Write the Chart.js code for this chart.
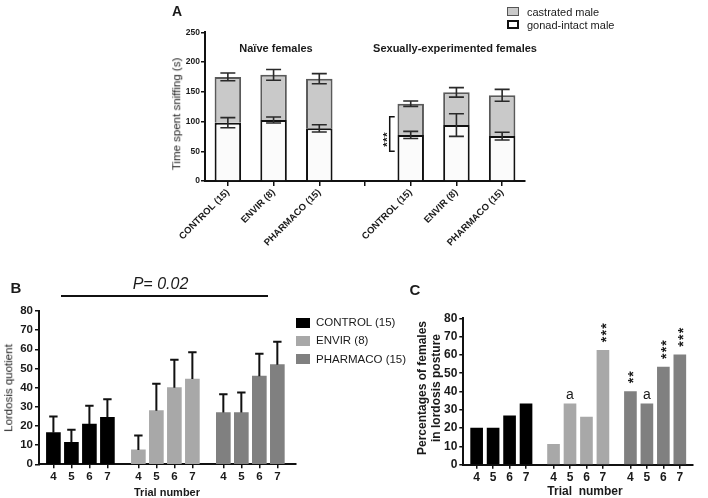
<!DOCTYPE html>
<html><head><meta charset="utf-8">
<script src="https://cdn.jsdelivr.net/npm/chart.js@4.4.0/dist/chart.umd.min.js"></script>
<style>
html,body{margin:0;padding:0;background:#fff;}
body{width:708px;height:498px;position:relative;overflow:hidden;font-family:"Liberation Sans",Arial,sans-serif;color:#1a1a1a;}
canvas{position:absolute;}
.t{position:absolute;white-space:nowrap;transform:translate(-50%,-50%);line-height:1;}
.l{position:absolute;white-space:nowrap;transform:translate(0,-50%);line-height:1;}
.r{transform:translate(-50%,-50%) rotate(-90deg);}
.b{font-weight:bold;}
.sq{position:absolute;box-sizing:border-box;}
</style></head><body>
<canvas id="cA" width="708" height="255" style="left:0;top:0"></canvas>
<canvas id="cB" width="300" height="243" style="left:0;top:255px"></canvas>
<canvas id="cC" width="348" height="218" style="left:360px;top:280px"></canvas>

<div class="t b" style="left:177px;top:11px;font-size:14px;">A</div>
<div class="sq" style="left:507px;top:7px;width:12px;height:9px;background:#c9c9c9;border:1.5px solid #555;"></div>
<div class="l" style="left:527px;top:11.5px;font-size:11px;">castrated male</div>
<div class="sq" style="left:507px;top:20px;width:12px;height:9px;background:#fff;border:2px solid #111;"></div>
<div class="l" style="left:527px;top:24.5px;font-size:11px;">gonad-intact male</div>
<div class="t r" style="left:177px;top:114px;font-size:11.5px;color:#222;">Time spent sniffing (s)</div>
<div class="t b" style="left:276px;top:48px;font-size:11px;">Naïve females</div>
<div class="t b" style="left:455px;top:48px;font-size:11px;">Sexually-experimented females</div>

<div class="t b" style="left:16px;top:287px;font-size:15px;">B</div>
<div class="t" style="left:160.5px;top:283.5px;font-size:16px;font-style:italic;">P= 0.02</div>
<div style="position:absolute;left:61px;top:295px;width:207px;height:1.5px;background:#111;"></div>
<div class="t r" style="left:9px;top:388px;font-size:11.5px;">Lordosis quotient</div>
<div class="sq" style="left:296px;top:318px;width:14px;height:10px;background:#000;"></div>
<div class="l" style="left:316px;top:323px;font-size:11.5px;">CONTROL (15)</div>
<div class="sq" style="left:296px;top:336px;width:14px;height:10px;background:#a8a8a8;"></div>
<div class="l" style="left:316px;top:341px;font-size:11.5px;">ENVIR (8)</div>
<div class="sq" style="left:296px;top:354px;width:14px;height:10px;background:#808080;"></div>
<div class="l" style="left:316px;top:359.5px;font-size:11.5px;">PHARMACO (15)</div>
<div class="t b" style="left:167px;top:491.5px;font-size:11px;">Trial number</div>

<div class="t b" style="left:415px;top:289px;font-size:15px;">C</div>
<div class="t r b" style="left:422px;top:388px;font-size:12px;">Percentages of females</div>
<div class="t r b" style="left:435.5px;top:388px;font-size:12px;">in lordosis posture</div>
<div class="t b" style="left:585px;top:491px;font-size:12px;">Trial&nbsp;&nbsp;number</div>

<script>
// ---------- Panel A data ----------
const groupsA = ['CONTROL (15)','ENVIR (8)','PHARMACO (15)','','CONTROL (15)','ENVIR (8)','PHARMACO (15)'];
const intactMean = [98, 102.5, 88.5, null, 77.5, 94, 75.5];
const intactErr = [8.5, 5, 6, null, 6, 19, 6.5];
const castratedMean = [77, 76, 83.5, null, 52.5, 55, 68.5];
const totalErr = [6.5, 9, 8.5, null, 4.5, 8, 10];
const sigBracketA = [50, 108];

// ---------- Panel B data ----------
const trials = ['4','5','6','7'];
const controlLQ = [16.5, 11.5, 21, 24.5];
const controlLQErr = [8.5, 6.5, 9.5, 9.5];
const envirLQ = [7.5, 28, 40, 44.5];
const envirLQErr = [7.5, 14, 14.5, 14];
const pharmacoLQ = [27, 27, 46, 52];
const pharmacoLQErr = [9.5, 10.5, 11.7, 12];

// ---------- Panel C data ----------
const controlPct = [20, 20, 26.7, 33.3];
const envirPct = [11.1, 33.3, 26, 62.5];
const pharmacoPct = [40, 33.3, 53.3, 60];
const envirMarks = ['', 'a', '', '***'];
const pharmacoMarks = ['**', 'a', '***', '***'];

const FONT = '"Liberation Sans", Arial, sans-serif';
const TXT = '#1a1a1a';
const colors = {control:'#000000', envir:'#a8a8a8', pharmaco:'#808080'};

function vStars(ctx, x, yBottom, n, size, step){
  ctx.save();
  ctx.font = 'bold ' + size + 'px ' + FONT;
  ctx.fillStyle = TXT; ctx.textAlign = 'center'; ctx.textBaseline = 'alphabetic';
  for(let k=0;k<n;k++){
    const yc = yBottom - step/2 - k*step;
    ctx.save();
    ctx.translate(x, yc);
    ctx.rotate(-Math.PI/2);
    ctx.fillText('*', 0, size*0.55);
    ctx.restore();
  }
  ctx.restore();
}

// ---------- Chart A ----------
const errPluginA = {
  id:'errA',
  afterDatasetsDraw(chart){
    const ctx = chart.ctx, ys = chart.scales.y, xs = chart.scales.x;
    const m0 = chart.getDatasetMeta(0);
    ctx.save();
    ctx.strokeStyle = '#2a2a2a'; ctx.lineWidth = 1.6;
    function eb(x, v, e){
      const y1 = ys.getPixelForValue(v-e), y2 = ys.getPixelForValue(v+e), h = 7.5;
      ctx.beginPath();
      ctx.moveTo(x, y1); ctx.lineTo(x, y2);
      ctx.moveTo(x-h, y1); ctx.lineTo(x+h, y1);
      ctx.moveTo(x-h, y2); ctx.lineTo(x+h, y2);
      ctx.stroke();
    }
    intactMean.forEach((v,i)=>{
      if(v==null) return;
      const x = m0.data[i].x;
      eb(x, v, intactErr[i]);
      eb(x, v + castratedMean[i], totalErr[i]);
    });
    // significance bracket
    const bx = xs.getPixelForValue(4) - 21;
    const yb1 = ys.getPixelForValue(sigBracketA[0]), yb2 = ys.getPixelForValue(sigBracketA[1]);
    ctx.strokeStyle = '#111'; ctx.lineWidth = 1.5;
    ctx.beginPath();
    ctx.moveTo(bx+5, yb1); ctx.lineTo(bx, yb1); ctx.lineTo(bx, yb2); ctx.lineTo(bx+5, yb2);
    ctx.stroke();
    ctx.restore();
    vStars(ctx, bx-5, (yb1+yb2)/2 + 13, 3, 11, 5);
  }
};

new Chart(document.getElementById('cA'), {
  type:'bar',
  data:{
    labels: groupsA,
    datasets:[
      {label:'gonad-intact male', data:intactMean, backgroundColor:'#fbfbfb', borderColor:'#111', borderWidth:2, stack:'s'},
      {label:'castrated male', data:castratedMean, backgroundColor:'#c9c9c9', borderColor:'#5a5a5a', borderWidth:2, stack:'s'}
    ]
  },
  options:{
    responsive:false, animation:false, devicePixelRatio:1,
    layout:{padding:{top:32.3, right:183, left:0, bottom:0}},
    plugins:{legend:{display:false}, tooltip:{enabled:false}},
    datasets:{bar:{categoryPercentage:1, barPercentage:0.58}},
    scales:{
      x:{stacked:true,
        afterFit(s){ s.height = 255 - 181; },
        grid:{offset:false, drawOnChartArea:false, drawTicks:true, tickLength:5, color:'#111', lineWidth:1.5},
        border:{display:true, color:'#111', width:2},
        ticks:{autoSkip:false, minRotation:45, maxRotation:45, padding:1, color:TXT, font:{family:FONT, size:9.5, weight:'bold'}}
      },
      y:{stacked:true, min:0, max:250,
        afterFit(s){ s.width = 205; },
        grid:{drawOnChartArea:false, drawTicks:true, tickLength:4, color:'#111', lineWidth:1.5},
        border:{display:true, color:'#111', width:2},
        ticks:{stepSize:50, padding:1, color:TXT, font:{family:FONT, size:8.5, weight:'bold'}}
      }
    }
  },
  plugins:[errPluginA]
});

// ---------- helpers for B and C ----------
function groupedChart(canvasId, cfg){
  const positions = [];
  [0,1,2].forEach(g=>trials.forEach((t,i)=>positions.push(g*cfg.gap + i)));
  const series = cfg.series;
  const datasets = series.map((s,g)=>({
    label:s.label,
    data: s.values.map((v,i)=>({x: g*cfg.gap + i, y: v})),
    backgroundColor: s.color, borderWidth:0,
    barThickness: cfg.barThickness, grouped:false
  }));
  const plug = {
    id:'extra'+canvasId,
    afterDatasetsDraw(chart){
      const ctx = chart.ctx, ys = chart.scales.y;
      series.forEach((s,g)=>{
        const meta = chart.getDatasetMeta(g);
        meta.data.forEach((el,i)=>{
          const x = el.x, v = s.values[i];
          if(s.err){
            const y1 = ys.getPixelForValue(v), y2 = ys.getPixelForValue(v + s.err[i]);
            ctx.save(); ctx.strokeStyle = '#111'; ctx.lineWidth = 2;
            ctx.beginPath(); ctx.moveTo(x,y1); ctx.lineTo(x,y2);
            ctx.moveTo(x-4.2,y2); ctx.lineTo(x+4.2,y2); ctx.stroke(); ctx.restore();
          }
          if(s.marks && s.marks[i]){
            const m = s.marks[i], top = ys.getPixelForValue(v);
            if(m === 'a'){
              ctx.save(); ctx.font = '14px ' + FONT; ctx.fillStyle = TXT;
              ctx.textAlign='center'; ctx.textBaseline='alphabetic';
              ctx.fillText('a', x, top - 4.5); ctx.restore();
            } else {
              vStars(ctx, x, top - 7.5, m.length, 14, 6.7);
            }
          }
        });
      });
    }
  };
  return new Chart(document.getElementById(canvasId), {
    type:'bar',
    data:{datasets},
    options:{
      responsive:false, animation:false, devicePixelRatio:1,
      layout:{padding:{top:cfg.top, right:cfg.right, left:0, bottom:0}},
      plugins:{legend:{display:false}, tooltip:{enabled:false}},
      scales:{
        x:{type:'linear', offset:false, min:cfg.xmin, max:positions[positions.length-1] + cfg.xpadR,
          afterFit(s){ s.height = cfg.xh; },
          afterBuildTicks(s){ s.ticks = positions.map(v=>({value:v})); },
          grid:{offset:false, drawOnChartArea:false, drawTicks:true, tickLength:4, color:'#111', lineWidth:1.5},
          border:{display:true, color:'#111', width:2},
          ticks:{autoSkip:false, maxRotation:0, padding:2, color:TXT,
            callback:(v,i)=>trials[i % trials.length],
            font:{family:FONT, size:cfg.fs, weight:'bold'}}
        },
        y:{min:0, max:80,
          afterFit(s){ s.width = cfg.yw; },
          grid:{drawOnChartArea:false, drawTicks:true, tickLength:4, color:'#111', lineWidth:1.5},
          border:{display:true, color:'#111', width:2},
          ticks:{stepSize:10, padding:2, color:TXT, font:{family:FONT, size:cfg.fs, weight:'bold'}}
        }
      }
    },
    plugins:[plug]
  });
}

groupedChart('cB', {
  gap:4.72, barThickness:14, xmin:-0.8, xpadR:1.02, top:56, right:4.3, xh:243-209.3, yw:39, fs:11.5,
  series:[
    {label:'CONTROL (15)', values:controlLQ, err:controlLQErr, color:colors.control},
    {label:'ENVIR (8)', values:envirLQ, err:envirLQErr, color:colors.envir},
    {label:'PHARMACO (15)', values:pharmacoLQ, err:pharmacoLQErr, color:colors.pharmaco}
  ]
});

groupedChart('cC', {
  gap:4.67, barThickness:12, xmin:-0.81, xpadR:0.8, top:38.3, right:15, xh:218-184.7, yw:103.3, fs:12,
  series:[
    {label:'CONTROL (15)', values:controlPct, color:colors.control},
    {label:'ENVIR (8)', values:envirPct, marks:envirMarks, color:colors.envir},
    {label:'PHARMACO (15)', values:pharmacoPct, marks:pharmacoMarks, color:colors.pharmaco}
  ]
});
</script>
</body></html>
